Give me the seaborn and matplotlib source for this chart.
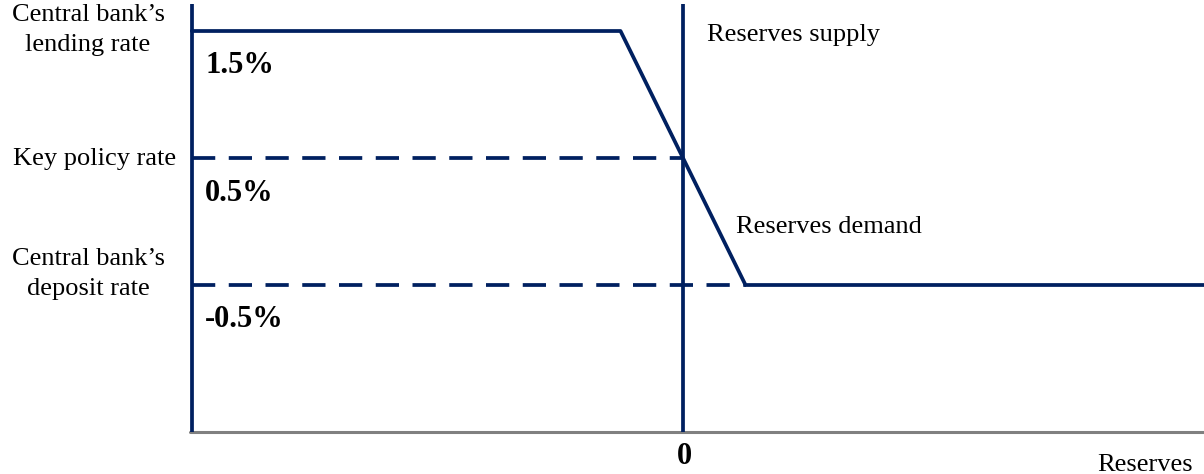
import numpy as np
import pandas as pd
import matplotlib
matplotlib.use("Agg")
import matplotlib.pyplot as plt
import seaborn as sns

# rates (in %) and their labels
rates = [1.5, 0.5, -0.5]
rate_labels = ["1.5%", "0.5%", "-0.5%"]
rate_names = ["Central bank’s\nlending rate", "Key policy rate", "Central bank’s\ndeposit rate"]

# reserves demand curve (reserves, rate)
demand_x = [-7.86, -1.0, 1.0, 8.4]
demand_y = [1.5, 1.5, -0.5, -0.5]

# reserves supply is vertical at zero reserves
supply_x = [0.0, 0.0]

sns.set_style("white")
plt.rcParams['font.family'] = ['Liberation Serif', 'DejaVu Serif']
plt.rcParams['text.color'] = 'black'

navy = "#002060"
gray = "#808080"
W, H = 1204, 474

def px(x, y):
    return x / W, 1 - y / H

fig = plt.figure(figsize=(W / 100, H / 100), dpi=100)
# axes from pixel 190..1204 horizontally, 4..432 vertically
left_px, right_px, top_px, bot_px = 190, 1204, 4, 432
zero_px, unit_x = 683, 62.5
pol_px, unit_y = 158, 127.0
ax = fig.add_axes([left_px / W, (H - bot_px) / H, (right_px - left_px) / W, (bot_px - top_px) / H])
ax.set_xlim((left_px - zero_px) / unit_x, (right_px - zero_px) / unit_x)
ymin = 0.5 - (bot_px - pol_px) / unit_y
ymax = 0.5 + (pol_px - top_px) / unit_y
ax.set_ylim(ymin, ymax)
for s in ax.spines.values():
    s.set_visible(False)
ax.set_xticks([])
ax.set_yticks([])

lw = 2.7
x_left = demand_x[0]

# axes lines
ax.axhline(ymin, color=gray, lw=2.2, clip_on=False)
ax.plot([x_left, x_left], [ymin, ymax], color=navy, lw=lw, solid_capstyle="butt")

# dashed guides for policy and deposit rates
ax.plot([x_left, 0.0], [rates[1], rates[1]], color=navy, lw=lw, dashes=(6.2, 3.6))
ax.plot([x_left, demand_x[2]], [rates[2], rates[2]], color=navy, lw=lw, dashes=(6.2, 3.6))

# supply and demand
sns.lineplot(x=supply_x, y=[ymin, ymax], ax=ax, color=navy, lw=lw, sort=False,
             estimator=None, solid_capstyle="butt")
sns.lineplot(x=demand_x, y=demand_y, ax=ax, color=navy, lw=lw, sort=False, estimator=None)

# text
fs = 19
bfs = 22
fig.text(*px(88, 30), rate_names[0], ha="center", va="center", fontsize=fs, linespacing=1.42)
fig.text(*px(95, 159), rate_names[1], ha="center", va="center", fontsize=fs)
fig.text(*px(88, 274), rate_names[2], ha="center", va="center", fontsize=fs, linespacing=1.42)

for lab, yb in zip(rate_labels, [73, 201, 327]):
    fig.text(*px(205, yb), lab, ha="left", va="baseline", fontsize=bfs, fontweight="bold")

fig.text(*px(684, 464), "0", ha="center", va="baseline", fontsize=bfs, fontweight="bold")
fig.text(*px(707, 41), "Reserves supply", ha="left", va="baseline", fontsize=fs)
fig.text(*px(736, 233), "Reserves demand", ha="left", va="baseline", fontsize=fs)
fig.text(*px(1097, 471), "Reserves", ha="left", va="baseline", fontsize=fs)

fig.savefig("out.png", dpi=100)
